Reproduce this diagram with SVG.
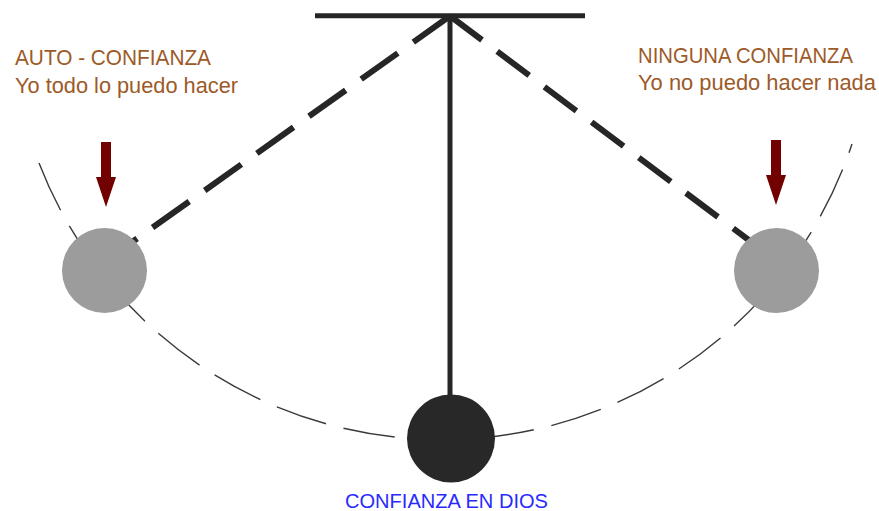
<svg xmlns="http://www.w3.org/2000/svg" width="879" height="511" viewBox="0 0 879 511">
  <style>
    .lbl { font-family: "Liberation Sans", Arial, sans-serif; font-size: 22px; fill: #9c5a28; }
    .blue { font-family: "Liberation Sans", Arial, sans-serif; font-size: 21px; fill: #2a2aff; }
    .rope { stroke: #262626; stroke-width: 6; fill: none; }
    .arc { stroke: #3a3a3a; stroke-width: 1.4; fill: none; stroke-dasharray: 52 18; }
    .gray { fill: #9c9c9c; }
    .dark { fill: #282828; }
    .arrow { fill: #720000; }
  </style>
  <rect width="879" height="511" fill="#ffffff"/>
  <g id="connectors">
    <path class="arc" d="M39,163 A432,432 0 0 0 852,144"/>
    <line x1="315" y1="15.8" x2="585" y2="15.8" stroke="#262626" stroke-width="5"/>
    <line x1="450" y1="15" x2="450" y2="400" stroke="#262626" stroke-width="5"/>
    <line class="rope" x1="450" y1="16" x2="128" y2="245" stroke-dasharray="45 19"/>
    <line class="rope" x1="450" y1="16" x2="750" y2="241" stroke-dasharray="40 19"/>
  </g>
  <g id="bob-left">
    <circle class="gray" cx="104.5" cy="270.5" r="42.5"/>
    <path class="arrow" d="M101,142 H111 V177 H116 L106,207 L96,177 H101 Z"/>
    <text class="lbl" x="15" y="65" textLength="196" lengthAdjust="spacingAndGlyphs">AUTO - CONFIANZA</text>
    <text class="lbl" x="15" y="93" textLength="223" lengthAdjust="spacingAndGlyphs">Yo todo lo puedo hacer</text>
  </g>
  <g id="bob-right">
    <circle class="gray" cx="776.5" cy="270.5" r="42.5"/>
    <path class="arrow" d="M771,140 H781 V175 H786 L776,205 L766,175 H771 Z"/>
    <text class="lbl" x="638" y="63" textLength="215" lengthAdjust="spacingAndGlyphs">NINGUNA CONFIANZA</text>
    <text class="lbl" x="638" y="90" textLength="238" lengthAdjust="spacingAndGlyphs">Yo no puedo hacer nada</text>
  </g>
  <g id="bob-center">
    <circle class="dark" cx="451" cy="438.5" r="44"/>
    <text class="blue" x="345" y="508" textLength="203" lengthAdjust="spacingAndGlyphs">CONFIANZA EN DIOS</text>
  </g>
</svg>
